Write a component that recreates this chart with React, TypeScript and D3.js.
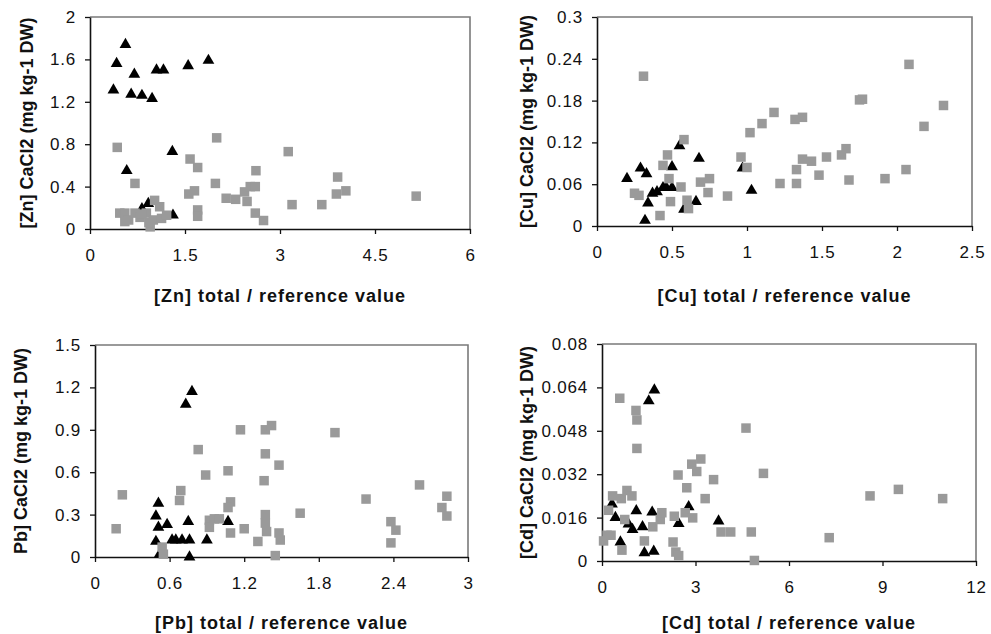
import React, { useEffect, useRef } from 'react';
import * as d3 from 'd3';

// [x, y] readings per panel: triangles (black) and squares (grey)
const znTriangles: [number, number][] = [
  [0.37, 1.31], [0.42, 1.56], [0.56, 1.74], [0.58, 0.55], [0.65, 1.27], [0.7, 1.46],
  [0.82, 1.26], [0.98, 1.23], [1.05, 1.5], [1.16, 1.5], [1.3, 0.73], [1.31, 0.13],
  [1.55, 1.54], [1.87, 1.59], [0.92, 0.24], [0.82, 0.19],
];
const znSquares: [number, number][] = [
  [0.43, 0.77], [0.71, 0.43], [0.47, 0.15], [0.55, 0.15], [0.61, 0.085], [0.71, 0.15],
  [0.79, 0.11], [0.89, 0.15], [0.95, 0.02], [1.02, 0.27], [1.0, 0.085], [1.1, 0.21],
  [1.13, 0.1], [1.21, 0.13], [1.58, 0.66], [1.7, 0.58], [1.56, 0.33], [1.65, 0.36],
  [1.7, 0.18], [1.7, 0.12], [2.0, 0.86], [1.98, 0.43], [2.15, 0.29], [2.3, 0.28],
  [2.44, 0.35], [2.48, 0.26], [2.53, 0.4], [2.61, 0.4], [2.62, 0.55], [2.61, 0.15],
  [2.74, 0.08], [3.13, 0.73], [3.19, 0.23], [3.66, 0.23], [3.91, 0.49], [3.89, 0.33],
  [4.04, 0.36], [5.15, 0.31], [0.55, 0.07], [0.82, 0.14], [0.93, 0.06],
];

const cuTriangles: [number, number][] = [
  [0.2, 0.068], [0.29, 0.083], [0.33, 0.075], [0.34, 0.033], [0.32, 0.008], [0.37, 0.047],
  [0.4, 0.049], [0.44, 0.055], [0.46, 0.056], [0.5, 0.085], [0.5, 0.055], [0.55, 0.115],
  [0.58, 0.024], [0.66, 0.035], [0.68, 0.097], [0.97, 0.083], [1.03, 0.051],
];
const cuSquares: [number, number][] = [
  [0.31, 0.215], [0.25, 0.047], [0.28, 0.044], [0.42, 0.015], [0.44, 0.087], [0.47, 0.102],
  [0.48, 0.068], [0.49, 0.035], [0.58, 0.124], [0.56, 0.056], [0.6, 0.037], [0.61, 0.025],
  [0.69, 0.063], [0.75, 0.068], [0.74, 0.048], [0.87, 0.043], [0.96, 0.099], [1.0, 0.084],
  [1.02, 0.134], [1.1, 0.147], [1.18, 0.163], [1.22, 0.061], [1.32, 0.153], [1.37, 0.156],
  [1.33, 0.081], [1.33, 0.061], [1.37, 0.096], [1.43, 0.093], [1.48, 0.073], [1.53, 0.099],
  [1.63, 0.102], [1.66, 0.111], [1.68, 0.066], [1.75, 0.181], [1.77, 0.182], [1.92, 0.068],
  [2.06, 0.081], [2.08, 0.232], [2.18, 0.143], [2.31, 0.173],
];

const pbTriangles: [number, number][] = [
  [0.51, 0.38], [0.49, 0.29], [0.51, 0.21], [0.49, 0.11], [0.52, 0.02], [0.58, 0.23],
  [0.65, 0.12], [0.7, 0.12], [0.73, 1.08], [0.78, 1.17], [0.75, 0.25], [0.76, 0.12],
  [0.76, 0.0], [0.9, 0.12], [1.07, 0.25], [0.62, 0.12],
];
const pbSquares: [number, number][] = [
  [0.17, 0.2], [0.22, 0.44], [0.54, 0.07], [0.55, 0.02], [0.68, 0.4], [0.69, 0.47],
  [0.83, 0.76], [0.89, 0.58], [0.92, 0.26], [0.92, 0.21], [0.96, 0.27], [1.0, 0.27],
  [1.07, 0.61], [1.09, 0.39], [1.07, 0.35], [1.09, 0.17], [1.17, 0.9], [1.2, 0.2],
  [1.31, 0.11], [1.36, 0.54], [1.37, 0.73], [1.37, 0.9], [1.42, 0.93], [1.37, 0.3],
  [1.37, 0.24], [1.38, 0.18], [1.48, 0.65], [1.48, 0.17], [1.49, 0.12], [1.45, 0.01],
  [1.65, 0.31], [1.93, 0.88], [2.18, 0.41], [2.38, 0.25], [2.42, 0.19], [2.38, 0.1],
  [2.61, 0.51], [2.79, 0.35], [2.83, 0.43], [2.83, 0.29],
];

const cdTriangles: [number, number][] = [
  [0.32, 0.021], [0.43, 0.016], [0.59, 0.007], [0.85, 0.0136], [0.98, 0.0116], [1.1, 0.0185],
  [1.3, 0.0126], [1.36, 0.003], [1.5, 0.059], [1.68, 0.063], [1.61, 0.018], [1.66, 0.0036],
  [2.46, 0.0138], [2.78, 0.02], [3.74, 0.0147],
];
const cdSquares: [number, number][] = [
  [0.05, 0.0074], [0.16, 0.0095], [0.29, 0.0095], [0.21, 0.0187], [0.34, 0.024], [0.62, 0.023],
  [0.57, 0.06], [0.64, 0.004], [0.73, 0.0153], [0.8, 0.026], [0.96, 0.024], [1.09, 0.0555],
  [1.12, 0.052], [1.12, 0.0415], [1.36, 0.0074], [1.63, 0.0126], [1.87, 0.0153], [1.92, 0.0178],
  [2.28, 0.007], [2.32, 0.0165], [2.37, 0.0033], [2.46, 0.002], [2.44, 0.0317], [2.72, 0.027],
  [2.67, 0.0178], [2.88, 0.0357], [2.91, 0.0159], [3.04, 0.033], [3.17, 0.0376], [3.31, 0.023],
  [3.58, 0.03], [3.82, 0.0107], [4.13, 0.0107], [4.62, 0.049], [4.79, 0.0107], [4.89, 0.0002],
  [5.18, 0.0323], [7.29, 0.0086], [8.6, 0.024], [9.51, 0.0264], [10.93, 0.023],
];

const znXTicks = [0, 1.5, 3, 4.5, 6];
const znYTicks = [0, 0.4, 0.8, 1.2, 1.6, 2];
const cuXTicks = [0, 0.5, 1, 1.5, 2, 2.5];
const cuYTicks = [0, 0.06, 0.12, 0.18, 0.24, 0.3];
const pbXTicks = [0, 0.6, 1.2, 1.8, 2.4, 3];
const pbYTicks = [0, 0.3, 0.6, 0.9, 1.2, 1.5];
const cdXTicks = [0, 3, 6, 9, 12];
const cdYTicks = [0, 0.016, 0.032, 0.048, 0.064, 0.08];

const panels = [
  {
    tri: znTriangles, sq: znSquares, xt: znXTicks, yt: znYTicks,
    xTitle: '[Zn] total / reference value', yTitle: '[Zn] CaCl2 (mg kg-1 DW)',
    box: { l: 90, r: 470, t: 17, b: 229 }, yTitleX: 27, xTitleY: 302,
  },
  {
    tri: cuTriangles, sq: cuSquares, xt: cuXTicks, yt: cuYTicks,
    xTitle: '[Cu] total / reference value', yTitle: '[Cu] CaCl2 (mg kg-1 DW)',
    box: { l: 597, r: 972, t: 17, b: 226 }, yTitleX: 527, xTitleY: 302,
  },
  {
    tri: pbTriangles, sq: pbSquares, xt: pbXTicks, yt: pbYTicks,
    xTitle: '[Pb] total / reference value', yTitle: 'Pb] CaCl2 (mg kg-1 DW)',
    box: { l: 95, r: 468, t: 345, b: 557 }, yTitleX: 21, xTitleY: 629,
  },
  {
    tri: cdTriangles, sq: cdSquares, xt: cdXTicks, yt: cdYTicks,
    xTitle: '[Cd] total / reference value', yTitle: '[Cd] CaCl2 (mg kg-1 DW)',
    box: { l: 602, r: 976, t: 344, b: 561 }, yTitleX: 527, xTitleY: 629,
  },
];

const font = 'Arial, "Liberation Sans", sans-serif';

export default function App() {
  const svgRef = useRef<SVGSVGElement>(null);

  useEffect(() => {
    const svg = d3.select(svgRef.current);
    svg.selectAll('*').remove();

    panels.forEach((p) => {
      const { l, r, t, b } = p.box;
      const x = d3.scaleLinear().domain([p.xt[0], p.xt[p.xt.length - 1]]).range([l, r]);
      const y = d3.scaleLinear().domain([p.yt[0], p.yt[p.yt.length - 1]]).range([b, t]);
      const g = svg.append('g');

      // plot frame (top/right grey)
      g.append('path')
        .attr('d', `M${l},${t}H${r}V${b}`)
        .attr('fill', 'none')
        .attr('stroke', '#7a7a7a')
        .attr('stroke-width', 1.6);

      const xAxis = g.append('g')
        .attr('transform', `translate(0,${b})`)
        .call(d3.axisBottom(x).tickValues(p.xt).tickSize(5).tickSizeOuter(0).tickPadding(15).tickFormat((d) => String(d)));
      const yAxis = g.append('g')
        .attr('transform', `translate(${l},0)`)
        .call(d3.axisLeft(y).tickValues(p.yt).tickSize(5).tickSizeOuter(0).tickPadding(9).tickFormat((d) => String(d)));

      [xAxis, yAxis].forEach((ax) => {
        ax.select('.domain').attr('stroke', '#111').attr('stroke-width', 1.6);
        ax.selectAll('.tick line').attr('stroke', '#111').attr('stroke-width', 1.3);
        ax.selectAll('.tick text')
          .attr('font-family', font)
          .attr('font-size', '17px')
          .attr('letter-spacing', '0.8px')
          .attr('fill', '#111');
      });

      // triangles first, grey squares over them
      g.selectAll('.tri')
        .data(p.tri)
        .join('path')
        .attr('transform', (d) => `translate(${x(d[0])},${y(d[1])})`)
        .attr('d', d3.symbol(d3.symbolTriangle, 60)())
        .attr('fill', '#000');

      const s = 9.5;
      g.selectAll('.sq')
        .data(p.sq)
        .join('rect')
        .attr('x', (d) => x(d[0]) - s / 2)
        .attr('y', (d) => y(d[1]) - s / 2)
        .attr('width', s)
        .attr('height', s)
        .attr('fill', '#9a9a9a');

      g.append('text')
        .attr('x', (l + r) / 2)
        .attr('y', p.xTitleY)
        .attr('text-anchor', 'middle')
        .attr('font-family', font)
        .attr('font-weight', 'bold')
        .attr('font-size', '18px')
        .attr('letter-spacing', '1px')
        .attr('fill', '#111')
        .text(p.xTitle);

      g.append('text')
        .attr('transform', `translate(${p.yTitleX},${(t + b) / 2}) rotate(-90)`)
        .attr('text-anchor', 'middle')
        .attr('dominant-baseline', 'central')
        .attr('font-family', font)
        .attr('font-weight', 'bold')
        .attr('font-size', '18px')
        .attr('fill', '#111')
        .text(p.yTitle);
    });
  }, []);

  return (
    <svg
      ref={svgRef}
      width={991}
      height={634}
      style={{ position: 'absolute', left: 0, top: 0, background: '#fff' }}
    />
  );
}
